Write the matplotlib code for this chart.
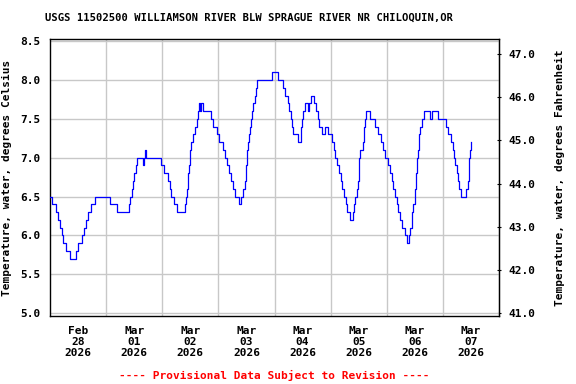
"""
USGS 11502500 수온 그래프 재현
"""
import matplotlib
matplotlib.use('Agg')
import matplotlib.pyplot as plt
import numpy as np

plt.rcParams['font.family'] = ['DejaVu Sans Mono', 'DejaVu Sans']
plt.rcParams['font.weight'] = 'bold'

# hours since Feb 28 2026 00:00, water temperature (deg C) at each step change
hours = [0, 1.0, 2.4, 3.6, 4.1, 5.0, 5.7, 7.0, 8.4, 11.3, 12.1, 13.6, 14.7, 15.6, 16.4,
         17.7, 19.3, 25.7, 28.6, 33.6, 34.4, 34.9, 35.3, 35.9, 36.7, 37.3, 39.6, 40.0,
         40.7, 41.2, 47.3, 48.9, 50.3, 51.3, 51.9, 52.9, 54.4, 57.6, 58.0, 58.4, 58.9,
         59.3, 59.9, 60.4, 61.0, 61.9, 62.7, 63.3, 63.6, 64.2, 64.7, 65.6, 68.7, 69.9,
         71.3, 72.4, 73.9, 74.7, 75.9, 76.7, 77.4, 78.1, 79.3, 80.7, 81.6, 82.4, 83.3,
         83.6, 83.9, 84.1, 84.4, 84.7, 85.0, 85.6, 85.8, 86.4, 87.0, 87.6, 88.2, 88.7,
         94.9, 97.4, 99.6, 100.7, 101.6, 102.4, 103.0, 103.6, 104.1, 106.1, 107.4,
         107.9, 108.3, 108.9, 110.3, 110.7, 111.4, 112.9, 113.9, 114.4, 115.0, 116.4,
         117.6, 118.9, 120.4, 121.3, 122.0, 122.7, 123.6, 124.4, 125.0, 125.9, 126.6,
         127.0, 128.4, 129.6, 130.0, 130.6, 131.1, 131.6, 132.0, 132.3, 132.7, 133.9,
         134.2, 134.4, 134.7, 135.3, 136.7, 139.0, 140.3, 141.7, 142.4, 143.3, 144.4,
         145.3, 146.2, 146.7, 147.6, 148.2, 149.0, 149.7, 150.7, 151.7, 152.6, 153.6,
         154.0, 154.6, 155.0, 155.4, 155.9, 156.2, 156.4, 156.6, 156.9, 157.0, 157.3,
         157.6, 157.9, 158.1, 158.9, 160.0, 162.4, 163.3, 166.0, 169.2, 170.3, 171.3,
         172.2, 172.7, 173.3, 173.9, 174.6, 175.0, 175.7, 178.1, 178.6, 179.0, 179.3,
         179.6, 179.9]
temps = [6.5, 6.4, 6.3, 6.2, 6.1, 6.0, 5.9, 5.8, 5.7, 5.8, 5.9, 6.0, 6.1, 6.2, 6.3,
         6.4, 6.5, 6.4, 6.3, 6.4, 6.5, 6.6, 6.7, 6.8, 6.9, 7.0, 6.9, 7.0,
         7.1, 7.0, 6.9, 6.8, 6.7, 6.6, 6.5, 6.4, 6.3, 6.4, 6.5, 6.6, 6.8,
         6.9, 7.1, 7.2, 7.3, 7.4, 7.5, 7.6, 7.7, 7.6, 7.7, 7.6, 7.5, 7.4,
         7.3, 7.2, 7.1, 7.0, 6.9, 6.8, 6.7, 6.6, 6.5, 6.4, 6.5, 6.6, 6.7,
         6.8, 6.9, 7.0, 7.1, 7.2, 7.3, 7.4, 7.5, 7.6, 7.7, 7.8, 7.9, 8.0,
         8.1, 8.0, 7.9, 7.8, 7.7, 7.6, 7.5, 7.4, 7.3, 7.2, 7.4,
         7.5, 7.6, 7.7, 7.6, 7.7, 7.8, 7.7, 7.6, 7.5, 7.4, 7.3,
         7.4, 7.3, 7.2, 7.1, 7.0, 6.9, 6.8, 6.7, 6.6, 6.5, 6.4,
         6.3, 6.2, 6.3, 6.4, 6.5, 6.6, 6.7, 6.8, 7.0, 7.1, 7.2,
         7.3, 7.4, 7.5, 7.6, 7.5, 7.4, 7.3, 7.2, 7.1, 7.0, 6.9,
         6.8, 6.7, 6.6, 6.5, 6.4, 6.3, 6.2, 6.1, 6.0, 5.9, 6.0,
         6.1, 6.2, 6.3, 6.4, 6.5, 6.6, 6.7, 6.8, 6.9, 7.0, 7.1,
         7.2, 7.3, 7.4, 7.5, 7.6, 7.5, 7.6, 7.5, 7.4, 7.3, 7.2,
         7.1, 7.0, 6.9, 6.8, 6.7, 6.6, 6.5, 6.6, 6.7, 6.9, 7.0,
         7.1, 7.2]

day_labels = ['Feb\n28\n2026', 'Mar\n01\n2026', 'Mar\n02\n2026', 'Mar\n03\n2026',
              'Mar\n04\n2026', 'Mar\n05\n2026', 'Mar\n06\n2026', 'Mar\n07\n2026']
c_ticks = [5.0, 5.5, 6.0, 6.5, 7.0, 7.5, 8.0, 8.5]
f_ticks = [41.0, 42.0, 43.0, 44.0, 45.0, 46.0, 47.0]

grid_color = '#c8c8c8'
fs = 8

fig = plt.figure(figsize=(5.76, 3.84), dpi=100, facecolor='white')
ax = fig.add_axes([50 / 576, 1 - 316 / 384, 449 / 576, 277 / 384])

days = np.array(hours) / 24.0
ax.plot(days, temps, color='#0000ff', linewidth=0.9, drawstyle='steps-post', zorder=3)

# x axis: gridlines at midnight, labels at noon
ax.set_xlim(0, 8)
ax.set_xticks(np.arange(8) + 0.5)
ax.set_xticklabels(day_labels, fontsize=fs, fontweight='bold', linespacing=1.15)
ax.set_xticks(np.arange(1, 8), minor=True)
ax.tick_params(axis='x', which='both', length=0, pad=7)
ax.grid(True, which='minor', axis='x', color=grid_color, linewidth=1.0)

# y axis (Celsius)
ax.set_ylim(4.96, 8.53)
ax.set_yticks(c_ticks)
ax.set_yticklabels([f'{v:.1f}' for v in c_ticks], fontsize=fs, fontweight='bold')
ax.tick_params(axis='y', length=0, pad=7)
ax.grid(True, which='major', axis='y', color=grid_color, linewidth=1.0)
ax.set_axisbelow(True)
for s in ax.spines.values():
    s.set_linewidth(1.0)
ax.set_ylabel('Temperature, water, degrees Celsius', fontsize=fs, fontweight='bold', labelpad=6)

# right axis (Fahrenheit)
sec = ax.secondary_yaxis('right', functions=(lambda c: c * 9 / 5 + 32, lambda f: (f - 32) * 5 / 9))
sec.set_yticks(f_ticks)
sec.set_yticklabels([f'{v:.1f}' for v in f_ticks], fontsize=fs, fontweight='bold')
sec.tick_params(axis='y', length=3, direction='inout', pad=5)
sec.set_ylabel('Temperature, water, degrees Fahrenheit', fontsize=fs, fontweight='bold', labelpad=14)

fig.text(249 / 576, 1 - 18 / 384, 'USGS 11502500 WILLIAMSON RIVER BLW SPRAGUE RIVER NR CHILOQUIN,OR',
         ha='center', va='center', fontsize=7.6, fontweight='bold')
fig.text(274 / 576, 1 - 375 / 384, '---- Provisional Data Subject to Revision ----',
         ha='center', va='center', fontsize=fs, fontweight='bold', color='red')

fig.savefig('out.png', dpi=100, facecolor='white')
